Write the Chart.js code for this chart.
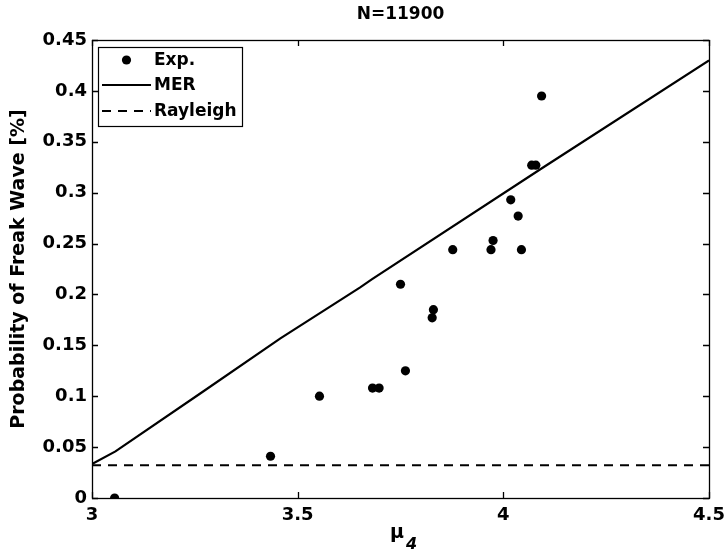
<!DOCTYPE html>
<html><head><meta charset="utf-8">
<script src="https://cdn.jsdelivr.net/npm/chart.js@4/dist/chart.umd.min.js"></script>
<style>html,body{margin:0;padding:0;background:#fff}#wrap{width:724px;height:552px}</style>
</head><body><div id="wrap"><canvas id="c" width="724" height="552"></canvas></div>
<script>
// ---- data ----
const expX = [3.055, 3.434, 3.553, 3.682, 3.698, 3.750, 3.762, 3.827, 3.830, 3.877, 3.970, 3.975, 4.018, 4.036, 4.044, 4.069, 4.079, 4.093];
const expY = [0.000, 0.041, 0.100, 0.108, 0.108, 0.210, 0.125, 0.177, 0.185, 0.244, 0.244, 0.253, 0.293, 0.277, 0.244, 0.327, 0.327, 0.395];
const merX = [3.000, 3.057, 3.264, 3.458, 3.652, 3.681, 4.090, 4.500];
const merY = [0.0334, 0.0458, 0.1029, 0.1569, 0.2070, 0.2150, 0.3230, 0.4300];
const rayX = [3.0, 4.5];
const rayY = [0.0322, 0.0322];
const xTicks = [3, 3.5, 4, 4.5];
const yTicks = [0, 0.05, 0.1, 0.15, 0.2, 0.25, 0.3, 0.35, 0.4, 0.45];
const seriesNames = ['Exp.', 'MER', 'Rayleigh'];
const titleText = 'N=11900';
const yLabel = 'Probability of Freak Wave [%]';
const xLabelMain = 'μ';
const xLabelSub = '4';

const FONT = '"DejaVu Sans", sans-serif';
const pts = (xs, ys) => xs.map((v, i) => ({x: v, y: ys[i]}));

const frame = {
  id: 'frame',
  afterDraw(chart) {
    const {ctx, chartArea: a, scales: {x, y}} = chart;
    ctx.save();
    ctx.strokeStyle = '#000';
    ctx.fillStyle = '#000';
    ctx.lineWidth = 1.3;
    const L = Math.round(a.left), R = Math.round(a.right), T = Math.round(a.top), B = Math.round(a.bottom);
    ctx.strokeRect(L + 0.5, T + 0.5, R - L, B - T);
    const TL = 6;
    ctx.beginPath();
    xTicks.forEach(v => {
      const px = Math.round(x.getPixelForValue(v)) + 0.5;
      ctx.moveTo(px, B); ctx.lineTo(px, B - TL);
      ctx.moveTo(px, T); ctx.lineTo(px, T + TL);
    });
    yTicks.forEach(v => {
      const py = Math.round(y.getPixelForValue(v)) + 0.5;
      ctx.moveTo(L, py); ctx.lineTo(L + TL, py);
      ctx.moveTo(R, py); ctx.lineTo(R - TL, py);
    });
    ctx.stroke();

    // legend
    const lx = L + 6, ly = T + 7, lw = 144, lh = 79;
    ctx.fillStyle = '#fff';
    ctx.fillRect(lx, ly, lw, lh);
    ctx.lineWidth = 1.2;
    ctx.strokeRect(lx + 0.5, ly + 0.5, lw, lh);
    ctx.fillStyle = '#000';
    ctx.font = 'bold 17px ' + FONT;
    ctx.textAlign = 'left';
    ctx.textBaseline = 'middle';
    const ds = chart.data.datasets;
    const rows = [ly + 13, ly + 38, ly + 64];
    const sx0 = lx + 4, sx1 = lx + 53, tx = lx + 56;
    ctx.beginPath(); ctx.arc((sx0 + sx1) / 2, rows[0], ds[0].pointRadius, 0, Math.PI * 2); ctx.fill();
    ctx.lineWidth = ds[1].borderWidth;
    ctx.beginPath(); ctx.moveTo(sx0, rows[1]); ctx.lineTo(sx1, rows[1]); ctx.stroke();
    ctx.lineWidth = ds[2].borderWidth;
    ctx.setLineDash(ds[2].borderDash);
    ctx.beginPath(); ctx.moveTo(sx0, rows[2]); ctx.lineTo(sx1, rows[2]); ctx.stroke();
    ctx.setLineDash([]);
    ds.forEach((d, i) => ctx.fillText(d.label, tx, rows[i] + 1));

    // title
    ctx.font = 'bold 17px ' + FONT;
    ctx.textAlign = 'center';
    ctx.fillText(titleText, (a.left + a.right) / 2, 15);

    // x label
    ctx.textAlign = 'left';
    ctx.textBaseline = 'alphabetic';
    ctx.font = 'bold 19px ' + FONT;
    const mx = 390;
    ctx.fillText(xLabelMain, mx, 538);
    const mw = ctx.measureText(xLabelMain).width;
    ctx.font = 'italic bold 16px ' + FONT;
    ctx.fillText(xLabelSub, mx + mw + 2, 549);

    // y label
    ctx.translate(19, (a.top + a.bottom) / 2);
    ctx.rotate(-Math.PI / 2);
    ctx.font = 'bold 19px ' + FONT;
    ctx.textAlign = 'center';
    ctx.textBaseline = 'middle';
    ctx.fillText(yLabel, 0, 0);
    ctx.restore();
  }
};

new Chart(document.getElementById('c'), {
  type: 'scatter',
  data: {
    datasets: [
      {label: seriesNames[0], data: pts(expX, expY), showLine: false, pointRadius: 4.6, pointHoverRadius: 4.6,
       backgroundColor: '#000', borderColor: '#000', pointBorderWidth: 0},
      {label: seriesNames[1], data: pts(merX, merY), showLine: true, pointRadius: 0, borderColor: '#000',
       borderWidth: 2.2, backgroundColor: '#000', fill: false, tension: 0},
      {label: seriesNames[2], data: pts(rayX, rayY), showLine: true, pointRadius: 0, borderColor: '#000',
       borderWidth: 2.2, borderDash: [9, 7], backgroundColor: '#000', fill: false}
    ]
  },
  options: {
    responsive: false,
    animation: false,
    devicePixelRatio: 1,
    layout: {padding: {left: 0, right: 15, top: 40, bottom: 0}},
    plugins: {legend: {display: false}, title: {display: false}, tooltip: {enabled: false}},
    scales: {
      x: {
        type: 'linear', min: 3, max: 4.5,
        afterBuildTicks: s => { s.ticks = xTicks.map(v => ({value: v})); },
        afterFit: s => { s.height = 54; s.paddingLeft = 0; s.paddingRight = 0; },
        grid: {display: false, drawTicks: false},
        border: {display: false},
        ticks: {color: '#000', font: {family: FONT, size: 18, weight: 'bold'}, padding: 7, maxRotation: 0,
                callback: v => String(+(+v).toFixed(2))}
      },
      y: {
        type: 'linear', min: 0, max: 0.45,
        afterBuildTicks: s => { s.ticks = yTicks.map(v => ({value: v})); },
        afterFit: s => { s.width = 92; s.paddingTop = 0; s.paddingBottom = 0; },
        grid: {display: false, drawTicks: false},
        border: {display: false},
        ticks: {color: '#000', font: {family: FONT, size: 18, weight: 'bold'}, padding: 5,
                callback: v => String(+(+v).toFixed(2))}
      }
    }
  },
  plugins: [frame]
});
</script>
</body></html>
